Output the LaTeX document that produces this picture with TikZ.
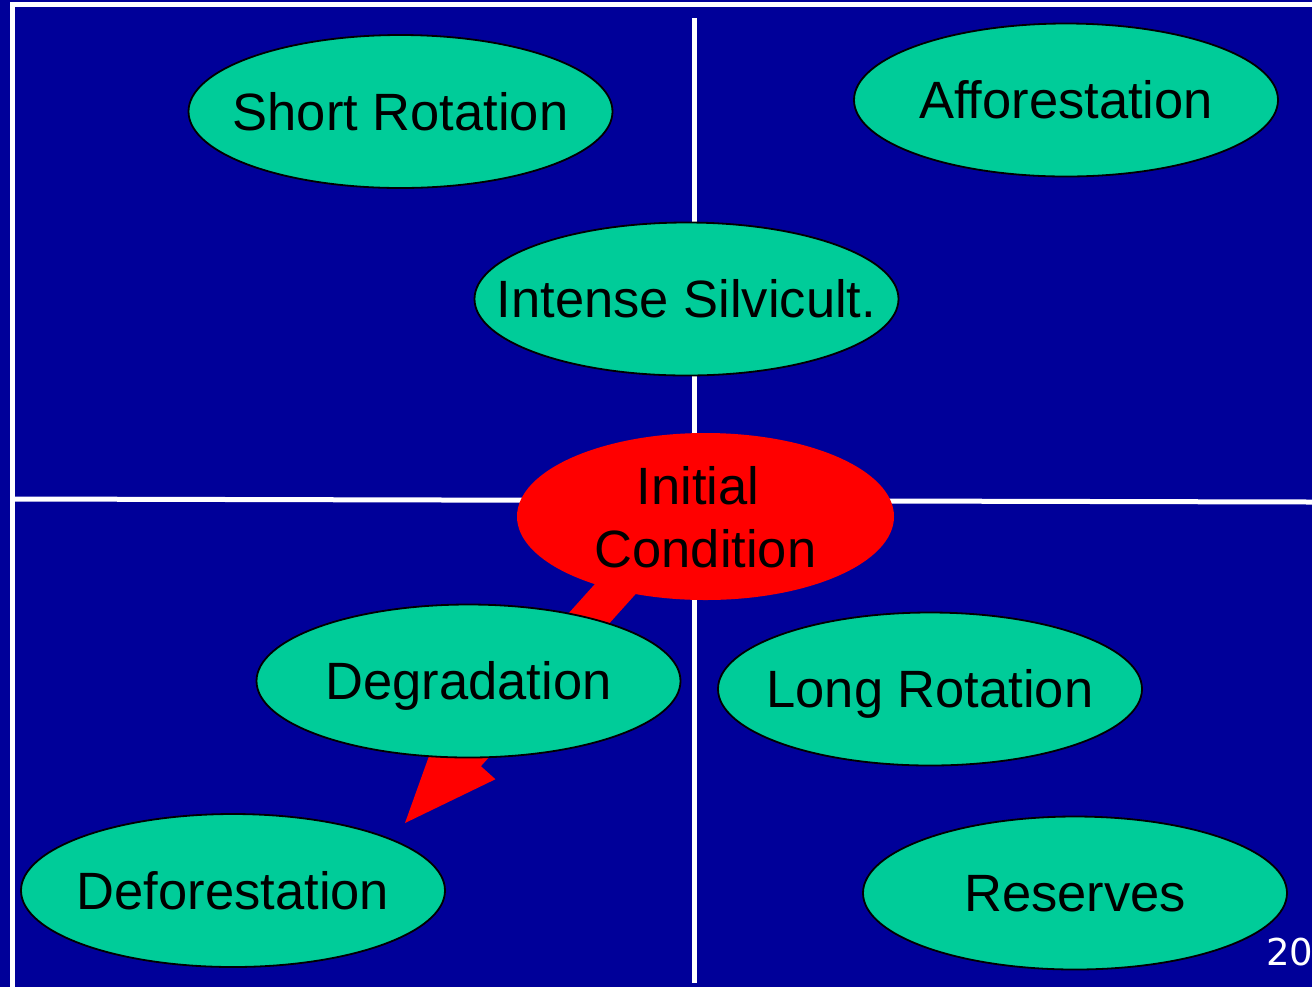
\documentclass[tikz,border=0pt]{standalone}
\usepackage{fontspec}
\setmainfont{Liberation Sans}
\newfontfamily\numfont{DejaVu Sans}
\usetikzlibrary{shapes.geometric,calc}
\definecolor{bgblue}{RGB}{0,0,153}
\definecolor{ellgreen}{RGB}{0,204,153}
\definecolor{icred}{RGB}{255,0,0}
\begin{document}
\begin{tikzpicture}[x=0.5pt,y=-0.5pt,
  axisline/.style={draw=white,line width=2.5pt},
  greenell/.style={ellipse,draw=black,line width=0.9pt,fill=ellgreen,
    minimum width=212pt,minimum height=76.5pt,inner sep=0pt,
    text height=18.8pt,text depth=0pt,
    font=\fontsize{26.25}{31.5}\selectfont},
  redell/.style={ellipse,fill=icred,minimum width=188.5pt,minimum height=83.5pt,
    inner sep=0pt,align=center,text height=50.8pt,text depth=0pt,
    font=\fontsize{26.25}{31.5}\selectfont},
  arrowfill/.style={fill=icred}]
\useasboundingbox (0,0) rectangle (1312,987);
\fill[bgblue] (0,0) rectangle (1312,987);
% frame and axes
\coordinate (topL) at (10,4.7);
\coordinate (topR) at (1312,4.7);
\coordinate (leftT) at (12.5,3);
\coordinate (leftB) at (12.5,987);
\coordinate (vT) at (694,18);
\coordinate (vB) at (694,983);
\coordinate (hL) at (15,499);
\coordinate (hR) at (1312,502);
\draw[axisline] (topL) -- (topR);
\draw[axisline] (leftT) -- (leftB);
\draw[axisline] (vT) -- (vB);
\draw[axisline] (hL) -- (hR);
% block arrow
\coordinate (arrS) at (680,517);
\coordinate (arrT) at (405,823);
\coordinate (arrB) at ($(arrT)!46.5pt!(arrS)$);
\fill[arrowfill] ($(arrS)!9.25pt!90:(arrT)$) -- ($(arrB)!9.25pt!90:(arrT)$)
  -- ($(arrB)!19pt!90:(arrT)$) -- (arrT) -- ($(arrB)!19pt!-90:(arrT)$)
  -- ($(arrB)!9.25pt!-90:(arrT)$) -- ($(arrS)!9.25pt!-90:(arrT)$) -- cycle;
% ellipses
\node[greenell] (sr) at (400.5,111.5) {\makebox[0pt]{Short Rotation}};
\node[greenell] (aff) at (1066,100) {\makebox[0pt]{Afforestation}};
\node[greenell] (is) at (686.5,299) {\makebox[0pt]{Intense Silvicult.}};
\node[redell] (ic) at (705.5,516.5) {\makebox[0pt]{Initial\kern0.278em}\\\makebox[0pt]{Condition}};
\node[greenell] (deg) at (468.5,681) {\makebox[0pt]{Degradation}};
\node[greenell] (lr) at (930,689) {\makebox[0pt]{Long Rotation}};
\node[greenell] (def) at (233,890.5) {\makebox[0pt]{Deforestation}};
\node[greenell] (res) at (1075,893) {\makebox[0pt]{Reserves}};
\node[anchor=base west,inner sep=0pt,text=white,font=\numfont\fontsize{18.5}{22}\selectfont] (pg) at (1266,965) {20};
\end{tikzpicture}
\end{document}
